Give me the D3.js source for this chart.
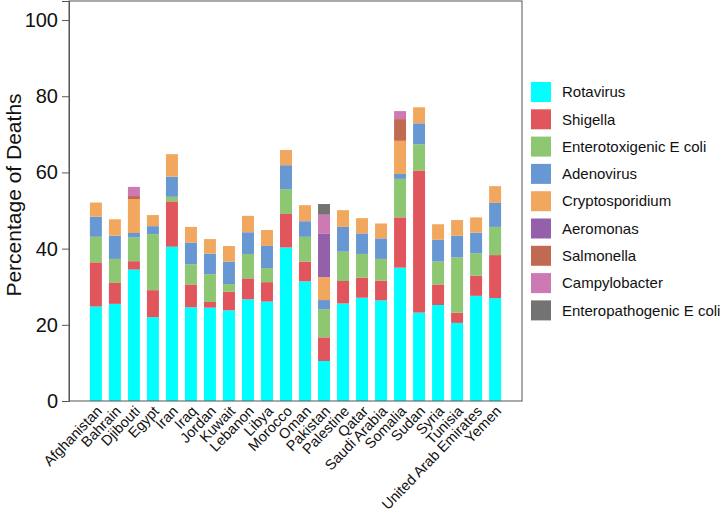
<!DOCTYPE html>
<html>
<head>
<meta charset="utf-8">
<script src="https://cdn.jsdelivr.net/npm/d3@7"></script>
<style>
  body { margin: 0; background: #fff; }
  svg { display: block; font-family: "Liberation Sans", Arial, sans-serif; }
</style>
</head>
<body>
<svg id="chart" width="725" height="515"></svg>
<script>
const countries = ["Afghanistan","Bahrain","Djibouti","Egypt","Iran","Iraq","Jordan","Kuwait","Lebanon","Libya","Morocco","Oman","Pakistan","Palestine","Qatar","Saudi Arabia","Somalia","Sudan","Syria","Tunisia","United Arab Emirates","Yemen"];
const pathogens = ["Rotavirus","Shigella","Enterotoxigenic E coli","Adenovirus","Cryptosporidium","Aeromonas","Salmonella","Campylobacter","Enteropathogenic E coli"];
const colors = ["#00ffff","#e1565c","#8dc771","#6898d3","#f1a85e","#9560aa","#c16a52","#cc79b4","#737373"];

const rotavirus      = [24.8,25.5,34.5,22.0,40.5,24.6,24.5,23.8,26.7,26.1,40.3,31.4,10.5,25.6,27.1,26.4,35.0,23.2,25.2,20.5,27.6,27.0];
const shigella       = [11.6, 5.5, 2.2, 7.1,11.9, 6.0, 1.5, 4.9, 5.5, 5.1, 8.8, 5.2, 6.2, 5.9, 5.3, 5.2,13.2,37.3, 5.4, 2.7, 5.3,11.3];
const etec           = [ 6.7, 6.3, 6.2,14.7, 1.2, 5.3, 7.3, 2.0, 6.4, 3.7, 6.5, 6.5, 7.4, 7.7, 6.2, 5.7,10.1, 6.9, 6.0,14.5, 5.9, 7.4];
const adenovirus     = [ 5.3, 6.1, 1.2, 2.1, 5.3, 5.7, 5.4, 5.9, 5.7, 5.8, 6.3, 4.1, 2.4, 6.5, 5.4, 5.4, 1.3, 5.5, 5.7, 5.7, 5.4, 6.3];
const crypto         = [ 3.7, 4.3, 8.9, 2.9, 5.9, 4.1, 3.8, 4.1, 4.3, 4.2, 4.0, 4.2, 6.0, 4.4, 4.0, 3.9, 8.7, 4.2, 4.1, 4.1, 4.0, 4.4];
const aeromonas      = [ 0,   0,   0,   0,   0,   0,   0,   0,   0,   0,   0,   0,  11.5, 0,   0,   0,   0,   0,   0,   0,   0,   0  ];
const salmonella     = [ 0,   0,   0.8, 0,   0,   0,   0,   0,   0,   0,   0,   0,   0,   0,   0,   0,   5.7, 0,   0,   0,   0,   0  ];
const campylobacter  = [ 0,   0,   2.4, 0,   0,   0,   0,   0,   0,   0,   0,   0,   4.9, 0,   0,   0,   2.1, 0,   0,   0,   0,   0  ];
const epec           = [ 0,   0,   0,   0,   0,   0,   0,   0,   0,   0,   0,   0,   2.8, 0,   0,   0,   0,   0,   0,   0,   0,   0  ];
const yTicks = [0,20,40,60,80,100];

const seriesValues = [rotavirus,shigella,etec,adenovirus,crypto,aeromonas,salmonella,campylobacter,epec];
const table = countries.map((c,i) => {
  const row = {country: c};
  pathogens.forEach((p,j) => row[p] = seriesValues[j][i]);
  return row;
});

const svg = d3.select("#chart");
const L = 69, R = 522, T = 1, B = 401;

const x = d3.scaleBand().domain(countries).range([L, R]).paddingInner(0.37).paddingOuter(1.1);
const y = d3.scaleLinear().domain([0,105]).range([B, T]);
const color = d3.scaleOrdinal().domain(pathogens).range(colors);

const stack = d3.stack().keys(pathogens)(table);

svg.append("g").selectAll("g").data(stack).join("g")
  .attr("fill", d => color(d.key))
  .selectAll("rect").data(d => d).join("rect")
  .attr("x", d => x(d.data.country))
  .attr("width", x.bandwidth())
  .attr("y", d => y(d[1]))
  .attr("height", d => Math.max(0, y(d[0]) - y(d[1])));

// frame
svg.append("rect").attr("x", L).attr("y", T).attr("width", R-L).attr("height", B-T)
  .attr("fill","none").attr("stroke","#555").attr("stroke-width",1);

// y axis
const yAxis = svg.append("g").attr("transform", `translate(${L},0)`)
  .call(d3.axisLeft(y).tickValues(yTicks).tickSize(7).tickPadding(4));
yAxis.select(".domain").attr("stroke","#555");
yAxis.selectAll(".tick line").attr("stroke","#555");
yAxis.selectAll("text").attr("font-size", 20).attr("fill","#111").attr("font-family","Liberation Sans, Arial, sans-serif");

svg.append("text")
  .attr("transform", `translate(21,195) rotate(-90)`)
  .attr("text-anchor","middle")
  .attr("font-size", 21)
  .attr("fill","#111")
  .text("Percentage of Deaths");

// x labels
svg.append("g").selectAll("text").data(countries).join("text")
  .attr("transform", d => `translate(${x(d) + x.bandwidth()/2 + 7},${B + 11}) rotate(-46)`)
  .attr("text-anchor","end")
  .attr("font-size", 14.5)
  .attr("fill","#111")
  .text(d => d);

// legend
const lg = svg.append("g").attr("transform","translate(531,82)");
const items = lg.selectAll("g").data(pathogens).join("g")
  .attr("transform",(d,i)=>`translate(0,${i*27.3})`);
items.append("rect").attr("width",20).attr("height",20).attr("fill", d => color(d));
items.append("text").attr("x",31).attr("y",10).attr("dy","0.35em")
  .attr("font-size",15).attr("fill","#111").text(d=>d);
</script>
</body>
</html>
